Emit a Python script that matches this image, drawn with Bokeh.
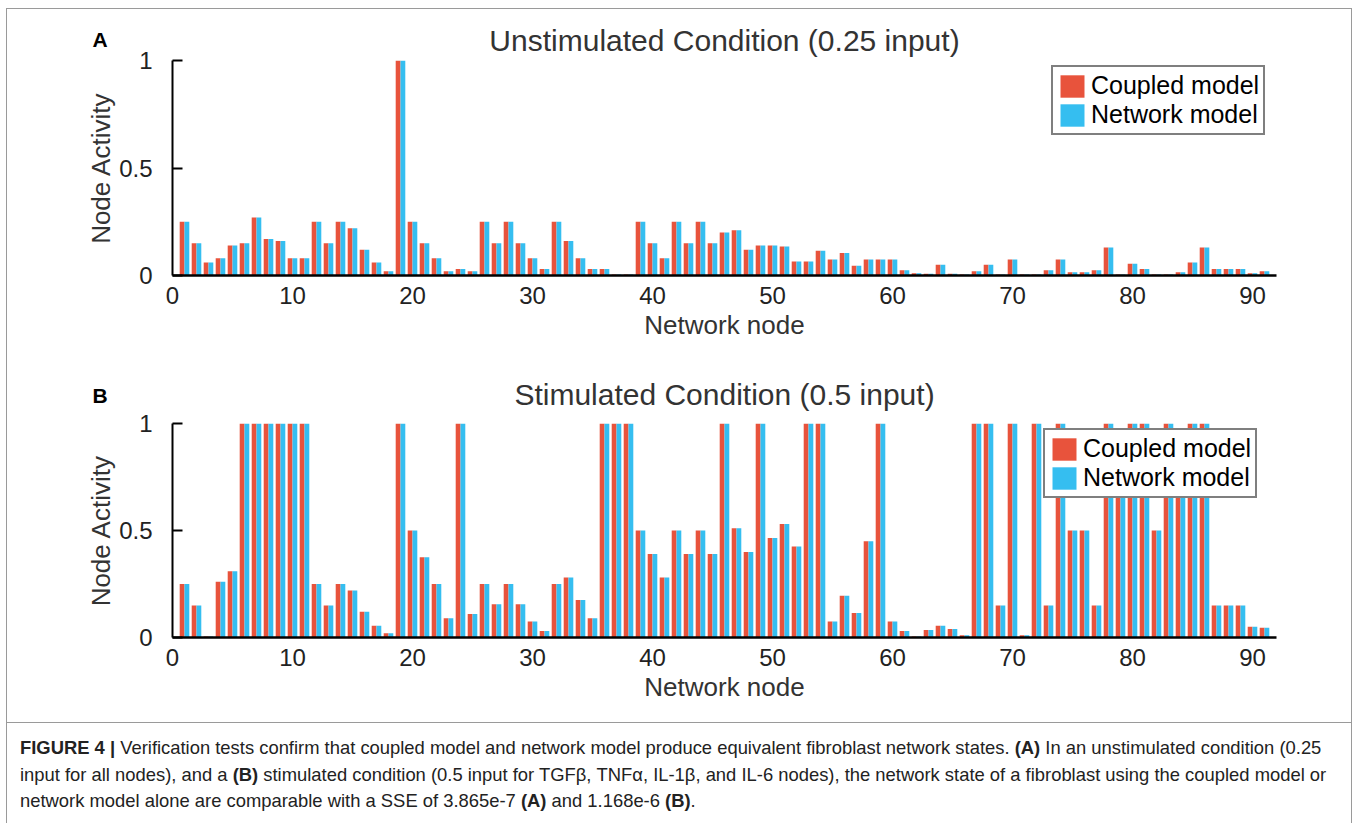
from bokeh.plotting import figure
from bokeh.models import Range1d, FixedTicker, Legend, LegendItem, Div, ColumnDataSource, Title
from bokeh.layouts import column
from bokeh.transform import dodge
from bokeh.embed import file_html
from bokeh.resources import INLINE

# ---------------- data ----------------
nodes = list(range(1, 92))

coupled_a = [0.25, 0.15, 0.06, 0.08, 0.14, 0.15, 0.27, 0.17, 0.16, 0.08,
             0.08, 0.25, 0.15, 0.25, 0.22, 0.12, 0.06, 0.02, 1.00, 0.25,
             0.15, 0.08, 0.02, 0.03, 0.02, 0.25, 0.15, 0.25, 0.15, 0.08,
             0.03, 0.25, 0.16, 0.08, 0.03, 0.03, 0.005, 0.005, 0.25, 0.15,
             0.08, 0.25, 0.15, 0.25, 0.15, 0.20, 0.21, 0.12, 0.14, 0.14,
             0.135, 0.065, 0.065, 0.115, 0.075, 0.105, 0.045, 0.075, 0.075, 0.075,
             0.025, 0.01, 0.008, 0.05, 0.008, 0.005, 0.02, 0.05, 0.005, 0.075,
             0.005, 0.005, 0.025, 0.075, 0.015, 0.015, 0.025, 0.13, 0.005, 0.055,
             0.03, 0.005, 0.005, 0.015, 0.06, 0.13, 0.03, 0.03, 0.03, 0.01,
             0.02]
network_a = [0.25, 0.15, 0.06, 0.08, 0.14, 0.15, 0.27, 0.17, 0.16, 0.08,
             0.08, 0.25, 0.15, 0.25, 0.22, 0.12, 0.06, 0.02, 1.00, 0.25,
             0.15, 0.08, 0.02, 0.03, 0.02, 0.25, 0.15, 0.25, 0.15, 0.08,
             0.03, 0.25, 0.16, 0.08, 0.03, 0.03, 0.005, 0.005, 0.25, 0.15,
             0.08, 0.25, 0.15, 0.25, 0.15, 0.20, 0.21, 0.12, 0.14, 0.14,
             0.135, 0.065, 0.065, 0.115, 0.075, 0.105, 0.045, 0.075, 0.075, 0.075,
             0.025, 0.01, 0.008, 0.05, 0.008, 0.005, 0.02, 0.05, 0.005, 0.075,
             0.005, 0.005, 0.025, 0.075, 0.015, 0.015, 0.025, 0.13, 0.005, 0.055,
             0.03, 0.005, 0.005, 0.015, 0.06, 0.13, 0.03, 0.03, 0.03, 0.01,
             0.02]

coupled_b = [0.25, 0.15, 0.005, 0.26, 0.31, 1.0, 1.0, 1.0, 1.0, 1.0,
             1.0, 0.25, 0.15, 0.25, 0.22, 0.12, 0.055, 0.02, 1.0, 0.50,
             0.375, 0.25, 0.09, 1.0, 0.11, 0.25, 0.155, 0.25, 0.155, 0.075,
             0.03, 0.25, 0.28, 0.175, 0.09, 1.0, 1.0, 1.0, 0.50, 0.39,
             0.28, 0.50, 0.39, 0.50, 0.39, 1.0, 0.51, 0.40, 1.0, 0.465,
             0.53, 0.425, 1.0, 1.0, 0.075, 0.195, 0.115, 0.45, 1.0, 0.075,
             0.03, 0.005, 0.035, 0.055, 0.04, 0.01, 1.0, 1.0, 0.15, 1.0,
             0.01, 1.0, 0.15, 1.0, 0.50, 0.50, 0.15, 1.0, 0.75, 1.0,
             1.0, 0.50, 1.0, 0.75, 1.0, 1.0, 0.15, 0.15, 0.15, 0.05,
             0.045]
network_b = [0.25, 0.15, 0.005, 0.26, 0.31, 1.0, 1.0, 1.0, 1.0, 1.0,
             1.0, 0.25, 0.15, 0.25, 0.22, 0.12, 0.055, 0.02, 1.0, 0.50,
             0.375, 0.25, 0.09, 1.0, 0.11, 0.25, 0.155, 0.25, 0.155, 0.075,
             0.03, 0.25, 0.28, 0.175, 0.09, 1.0, 1.0, 1.0, 0.50, 0.39,
             0.28, 0.50, 0.39, 0.50, 0.39, 1.0, 0.51, 0.40, 1.0, 0.465,
             0.53, 0.425, 1.0, 1.0, 0.075, 0.195, 0.115, 0.45, 1.0, 0.075,
             0.03, 0.005, 0.035, 0.055, 0.04, 0.01, 1.0, 1.0, 0.15, 1.0,
             0.01, 1.0, 0.15, 1.0, 0.50, 0.50, 0.15, 1.0, 0.75, 1.0,
             1.0, 0.50, 1.0, 0.75, 1.0, 1.0, 0.15, 0.15, 0.15, 0.05,
             0.045]

x_ticks = [0, 10, 20, 30, 40, 50, 60, 70, 80, 90]
y_ticks = [0, 0.5, 1]
y_tick_labels = {0: "0", 0.5: "0.5", 1: "1"}
series_names = ["Coupled model", "Network model"]
title_a = "Unstimulated Condition (0.25 input)"
title_b = "Stimulated Condition (0.5 input)"
x_label = "Network node"
y_label = "Node Activity"

caption_html = (
    "<b>FIGURE 4 |</b> Verification tests confirm that coupled model and network model produce "
    "equivalent fibroblast network states. <b>(A)</b> In an unstimulated condition (0.25<br>"
    "input for all nodes), and a <b>(B)</b> stimulated condition (0.5 input for TGF\u03b2, TNF\u03b1, "
    "IL-1\u03b2, and IL-6 nodes), the network state of a fibroblast using the coupled model or<br>"
    "network model alone are comparable with a SSE of 3.865e-7 <b>(A)</b> and 1.168e-6 <b>(B)</b>."
)

FONT = "Liberation Sans"
RED = "#E8533C"
BLUE = "#35BEF0"
TXT = "#222222"


def panel(letter, letter_standoff, title, title_standoff, title_offset, coupled, network,
          height, top, bottom, legend_xy):
    src = ColumnDataSource(dict(node=nodes, coupled=coupled, network=network))
    p = figure(width=1344, height=height, x_range=Range1d(0, 92), y_range=Range1d(0, 1),
               output_backend="svg", toolbar_location=None,
               min_border_left=165, min_border_right=75,
               min_border_top=top, min_border_bottom=bottom)
    p.outline_line_color = None
    p.grid.visible = False
    p.background_fill_color = "white"
    p.border_fill_color = "white"

    # panel letter as the (outer) figure title, pulled down beside the condition title
    p.title.text = letter
    p.title.text_font = FONT
    p.title.text_font_size = "21px"
    p.title.text_font_style = "bold"
    p.title.text_color = "black"
    p.title.align = "left"
    p.title.offset = -80
    p.title.standoff = letter_standoff

    t = Title(text=title, align="center", standoff=title_standoff, offset=title_offset,
              text_color="#333333", text_font=FONT, text_font_size="30px",
              text_font_style="normal")
    p.add_layout(t, "above")

    r1 = p.vbar(x=dodge("node", -0.2, range=p.x_range), top="coupled", width=0.4,
                source=src, fill_color=RED, line_color=None)
    r2 = p.vbar(x=dodge("node", 0.2, range=p.x_range), top="network", width=0.4,
                source=src, fill_color=BLUE, line_color=None)

    ya = p.yaxis[0]
    ya.ticker = FixedTicker(ticks=y_ticks)
    ya.major_label_overrides = y_tick_labels
    ya.minor_tick_line_color = None
    ya.major_tick_in = 10
    ya.major_tick_out = 0
    ya.major_tick_line_width = 2
    ya.major_tick_line_color = "black"
    ya.axis_line_width = 2
    ya.axis_line_color = "black"
    ya.major_label_text_font = FONT
    ya.major_label_text_font_size = "24px"
    ya.major_label_text_color = TXT
    ya.major_label_standoff = 20
    ya.axis_label = y_label
    ya.axis_label_text_font = FONT
    ya.axis_label_text_font_size = "26px"
    ya.axis_label_text_font_style = "normal"
    ya.axis_label_text_color = "#333333"
    ya.axis_label_standoff = 0

    xa = p.xaxis[0]
    xa.ticker = FixedTicker(ticks=x_ticks)
    xa.minor_tick_line_color = None
    xa.major_tick_in = 0
    xa.major_tick_out = 0
    xa.axis_line_width = 2.5
    xa.axis_line_color = "black"
    xa.major_label_text_font = FONT
    xa.major_label_text_font_size = "24px"
    xa.major_label_text_color = TXT
    xa.major_label_standoff = 11
    xa.axis_label = x_label
    xa.axis_label_text_font = FONT
    xa.axis_label_text_font_size = "26px"
    xa.axis_label_text_font_style = "normal"
    xa.axis_label_text_color = "#333333"
    xa.axis_label_standoff = 3

    legend = Legend(items=[LegendItem(label=series_names[0], renderers=[r1]),
                           LegendItem(label=series_names[1], renderers=[r2])],
                    location=legend_xy)
    legend.label_text_font = FONT
    legend.label_text_font_size = "25px"
    legend.label_text_color = "black"
    legend.glyph_width = 30
    legend.glyph_height = 28
    legend.label_height = 28
    legend.label_standoff = 4
    legend.padding = 4
    legend.spacing = 0
    legend.margin = 0
    legend.border_line_color = "black"
    legend.border_line_width = 2
    legend.background_fill_color = "white"
    legend.background_fill_alpha = 1.0
    p.add_layout(legend)
    return p


pA = panel("A", -65, title_a, 7, -5, coupled_a, network_a, 353, 51, 87, (879, 140))
pB = panel("B", -89, title_b, 26, 0, coupled_b, network_b, 360, 61, 85, (871, 139))

cap = Div(text=caption_html, width=1344, height=101, margin=0,
          styles={"border-top": "1px solid #9a9a9a", "font-family": "'Liberation Sans', Arial, sans-serif",
                  "font-size": "18.4px", "line-height": "26.5px", "color": "#222",
                  "padding-left": "13px", "padding-top": "12px", "white-space": "nowrap",
                  "box-sizing": "border-box"})

layout = column(pA, pB, cap, margin=(8, 0, 0, 6),
                styles={"border": "1px solid #9a9a9a"})

open("out.html", "w").write(file_html(layout, INLINE))
